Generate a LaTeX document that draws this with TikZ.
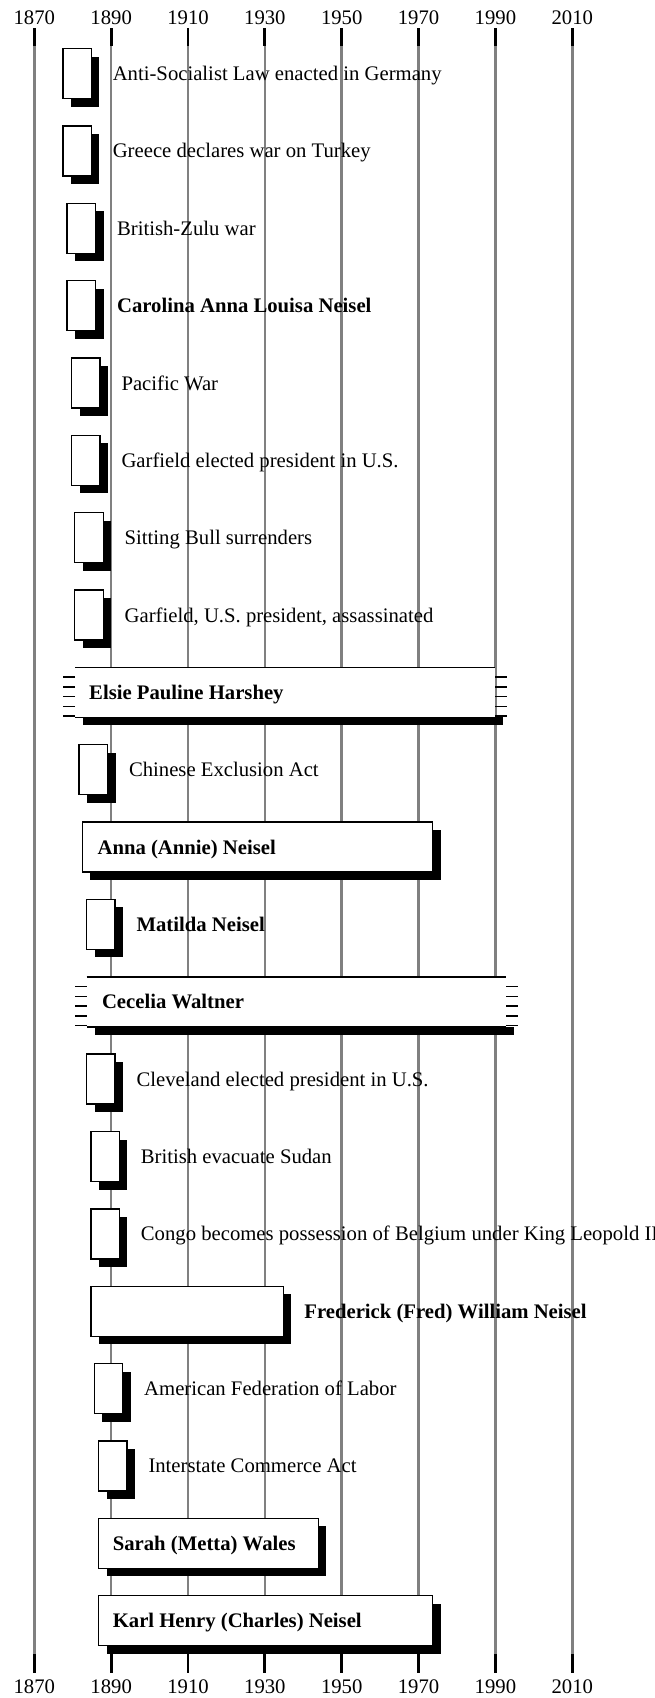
\documentclass[tikz,border=0pt]{standalone}
\usepackage{fontspec}
\setmainfont{Liberation Serif}
\usetikzlibrary{shadows,calc}
\definecolor{gridgray}{HTML}{808080}
\begin{document}
\begin{tikzpicture}[x=1pt,y=-1pt,
  font=\fontsize{20.7}{24}\selectfont,
  gridline/.style={draw=gridgray,line width=2.5pt},
  tickmark/.style={draw=black,line width=2.8pt},
  yearlbl/.style={anchor=base,inner sep=0pt},
  lbl/.style={anchor=base west,inner sep=0pt},
  blbl/.style={lbl,font=\fontsize{20.7}{24}\selectfont\bfseries},
  edge/.style={draw=black,line width=1.4pt},
  shadowed/.style={general shadow={fill=black,shadow xshift=8pt,shadow yshift=-8pt}},
  evbox/.style={draw=black,fill=white,line width=1.4pt,minimum width=28.5pt,
    minimum height=50pt,inner sep=0pt,outer sep=0pt,anchor=west,shadowed},
  pbox/.style={evbox},
  obox/.style={fill=white,draw=none,minimum height=50pt,inner sep=0pt,outer sep=0pt,anchor=west}]
\fill[white] (0,0) rectangle (655,1698);
\useasboundingbox (0,0) rectangle (655,1698);
% grid
\foreach \x/\yl in {34.3/1870,111.15/1890,188.0/1910,264.85/1930,341.7/1950,418.55/1970,495.4/1990,572.25/2010}{
  \draw[gridline] (\x,46) -- (\x,1654);
  \draw[tickmark] (\x,28.3) -- (\x,46);
  \draw[tickmark] (\x,1654) -- (\x,1673);
  \node[yearlbl] (ytop\yl) at (\x,24) {\yl};
  \node[yearlbl] (ybot\yl) at (\x,1693) {\yl};
}
% row 0
\node[evbox] (b0) at (62.8,73.6) {};
\node[lbl] (t0) at (112.6,80.6) {Anti-Socialist Law enacted in Germany};
% row 1
\node[evbox] (b1) at (62.8,150.95) {};
\node[lbl] (t1) at (112.6,157.95) {Greece declares war on Turkey};
% row 2
\node[evbox] (b2) at (67.1,228.3) {};
\node[lbl] (t2) at (116.9,235.3) {British-Zulu war};
% row 3
\node[evbox] (b3) at (67.1,305.65) {};
\node[blbl] (t3) at (116.9,312.65) {Carolina Anna Louisa Neisel};
% row 4
\node[evbox] (b4) at (71.5,383.0) {};
\node[lbl] (t4) at (121.3,390.0) {Pacific War};
% row 5
\node[evbox] (b5) at (71.5,460.35) {};
\node[lbl] (t5) at (121.3,467.35) {Garfield elected president in U.S.};
% row 6
\node[evbox] (b6) at (74.7,537.7) {};
\node[lbl] (t6) at (124.5,544.7) {Sitting Bull surrenders};
% row 7
\node[evbox] (b7) at (74.7,615.05) {};
\node[lbl] (t7) at (124.5,622.05) {Garfield, U.S. president, assassinated};
% row 8 (open-ended)
\node[obox,minimum width=420.2pt] (b8) at (75.2,692.4) {};
\fill ([shift={(8,0)}]b8.south west) rectangle ([shift={(8,8)}]b8.south east);
\draw[edge] (b8.north west) -- (b8.north east);
\draw[edge] (b8.south west) -- (b8.south east);
\foreach \k in {1,...,5}{
  \draw[edge] ($(b8.north west)+(0,\k*9.75)$) -- ++(-12,0);
  \draw[edge] ($(b8.north east)+(0,\k*9.75)$) -- ++(12,0);
}
\node[blbl] (t8) at (89,699.4) {Elsie Pauline Harshey};
% row 9
\node[evbox] (b9) at (79.0,769.75) {};
\node[lbl] (t9) at (128.8,776.75) {Chinese Exclusion Act};
% row 10
\node[pbox,minimum width=350.4pt] (b10) at (82.3,847.1) {};
\node[blbl] (t10) at (97.4,854.1) {Anna (Annie) Neisel};
% row 11
\node[evbox] (b11) at (86.6,924.45) {};
\node[blbl] (t11) at (136.4,931.45) {Matilda Neisel};
% row 12 (open-ended)
\node[obox,minimum width=419.3pt] (b12) at (86.7,1001.8) {};
\fill ([shift={(8,0)}]b12.south west) rectangle ([shift={(8,8)}]b12.south east);
\draw[edge] (b12.north west) -- (b12.north east);
\draw[edge] (b12.south west) -- (b12.south east);
\foreach \k in {1,...,5}{
  \draw[edge] ($(b12.north west)+(0,\k*9.75)$) -- ++(-12,0);
  \draw[edge] ($(b12.north east)+(0,\k*9.75)$) -- ++(12,0);
}
\node[blbl] (t12) at (101.8,1008.8) {Cecelia Waltner};
% row 13
\node[evbox] (b13) at (86.6,1079.15) {};
\node[lbl] (t13) at (136.4,1086.15) {Cleveland elected president in U.S.};
% row 14
\node[evbox] (b14) at (90.9,1156.5) {};
\node[lbl] (t14) at (140.7,1163.5) {British evacuate Sudan};
% row 15
\node[evbox] (b15) at (90.9,1233.85) {};
\node[lbl] (t15) at (140.7,1240.85) {Congo becomes possession of Belgium under King Leopold II};
% row 16
\node[pbox,minimum width=192.4pt] (b16) at (90.9,1311.2) {};
\node[blbl] (t16) at (304.2,1318.2) {Frederick (Fred) William Neisel};
% row 17
\node[evbox] (b17) at (94.2,1388.55) {};
\node[lbl] (t17) at (144.0,1395.55) {American Federation of Labor};
% row 18
\node[evbox] (b18) at (98.5,1465.9) {};
\node[lbl] (t18) at (148.3,1472.9) {Interstate Commerce Act};
% row 19
\node[pbox,minimum width=219.8pt] (b19) at (98.5,1543.25) {};
\node[blbl] (t19) at (112.6,1550.25) {Sarah (Metta) Wales};
% row 20
\node[pbox,minimum width=334.2pt] (b20) at (98.5,1620.6) {};
\node[blbl] (t20) at (112.6,1627.6) {Karl Henry (Charles) Neisel};
\end{tikzpicture}
\end{document}
